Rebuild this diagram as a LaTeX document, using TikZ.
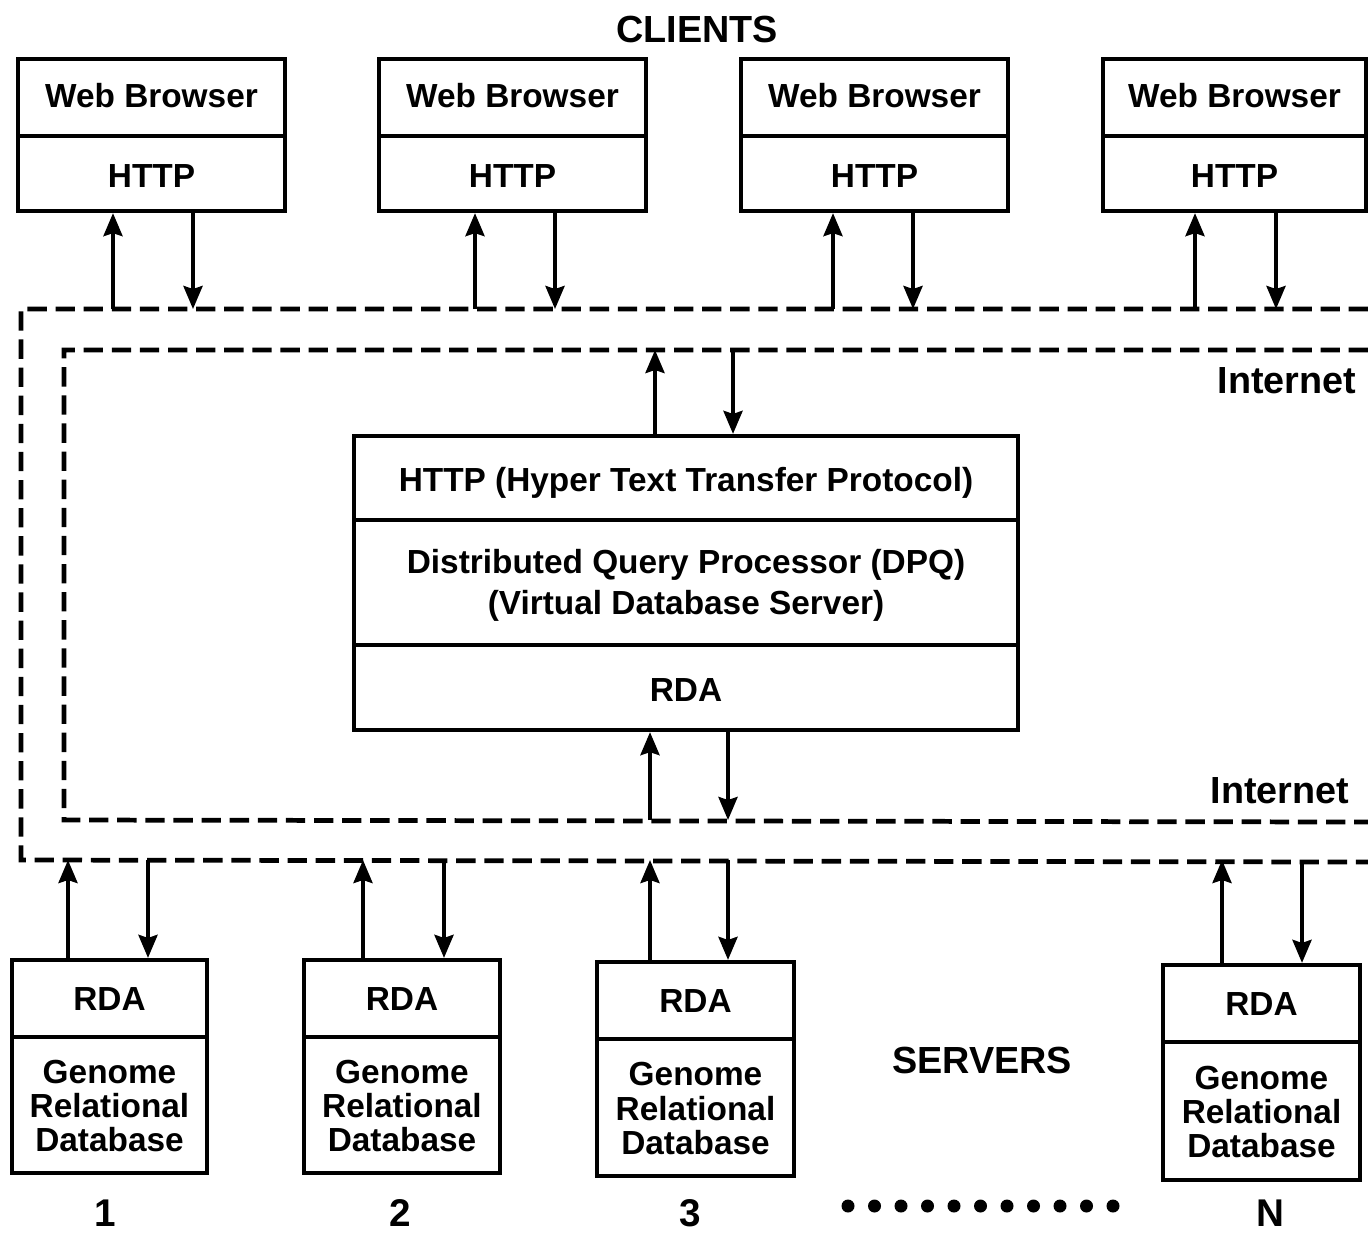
\documentclass[tikz,border=0pt]{standalone}
\usepackage{fontspec}
\setmainfont{Liberation Sans}
\usetikzlibrary{arrows.meta,fit}

\begin{document}
\begin{tikzpicture}[x=0.02cm,y=-0.02cm,
  box/.style={draw,line width=2.4pt,inner sep=0pt},
  lbl/.style={font=\fontsize{19}{19.6}\selectfont\bfseries,align=center,inner sep=0pt},
  lblc/.style={font=\fontsize{19}{23.3}\selectfont\bfseries,align=center,inner sep=0pt},
  big/.style={font=\fontsize{21.5}{24}\selectfont\bfseries,inner sep=0pt},
  num/.style={font=\fontsize{22}{24}\selectfont\bfseries,inner sep=0pt},
  rule/.style={line width=2.4pt},
  net/.style={line width=2.7pt,dash pattern=on 11pt off 5pt},
  arr/.style={line width=2.2pt,-{Stealth[width=0.38cm,length=0.46cm,inset=0.06cm]}}]

\useasboundingbox (0,0) rectangle (1368,1235);

% headings
\node[big] (clients) at (697,29) {CLIENTS};
\node[big] (servers) at (982,1060) {SERVERS};

% the two Internet regions, open to the right
\draw[net] (1368,309) -- (21,309) -- (21,860) -- (1368,862);
\draw[net] (1368,350) -- (64,350) -- (64,820) -- (1368,822);
\node[big] (net1) at (1287,381) {Internet};
\node[big] (net2) at (1280,791) {Internet};

% client machines
\foreach \i/\l/\r/\u/\d in {1/18/285/113/193, 2/379/646/475/555,
                            3/741/1008/833/913, 4/1103/1366/1195/1276} {
  \node[box,fit={(\l,59) (\r,211)}] (c\i) {};
  \draw[rule] (\l,136) -- (\r,136);
  \node[lbl] (cw\i) at ({(\l+\r)/2},96) {Web Browser};
  \node[lbl] (ch\i) at ({(\l+\r)/2},176) {HTTP};
  \coordinate (cu\i) at (\u,309);
  \coordinate (cd\i) at (\d,309);
  \draw[arr] (cu\i) -- (cu\i |- c\i.south);
  \draw[arr] (cd\i |- c\i.south) -- (cd\i);
}

% virtual database server
\node[box,fit={(354,436) (1018,730)}] (dpq) {};
\draw[rule] (354,520) -- (1018,520);
\draw[rule] (354,645) -- (1018,645);
\node[lbl] (dpqhttp) at (686,483) {HTTP (Hyper Text Transfer Protocol)};
\node[lblc] (dpqmain) at (686,585) {Distributed Query Processor (DPQ)\\(Virtual Database Server)};
\node[lbl] (dpqrda) at (686,690) {RDA};

\coordinate (iu) at (655,350);
\coordinate (id) at (733,350);
\coordinate (bu) at (650,820);
\coordinate (bd) at (728,820);
\draw[arr] (iu |- dpq.north) -- (iu);
\draw[arr] (id) -- (id |- dpq.north);
\draw[arr] (bu) -- (bu |- dpq.south);
\draw[arr] (bd |- dpq.south) -- (bd);

% database servers
\foreach \i/\l/\r/\t/\b/\dv/\u/\d/\nx/\n in {1/12/207/960/1173/1037/68/148/105/1,
    2/304/500/960/1173/1037/363/444/400/2,
    3/597/794/962/1176/1039/650/728/690/3,
    4/1163/1360/965/1180/1042/1222/1302/1270/N} {
  \node[box,fit={(\l,\t) (\r,\b)}] (s\i) {};
  \draw[rule] (\l,\dv) -- (\r,\dv);
  \node[lbl] (sr\i) at ({(\l+\r)/2},{(\t+\dv)/2}) {RDA};
  \node[lbl] (sg\i) at ({(\l+\r)/2},{(\dv+\b)/2+1}) {Genome\\Relational\\Database};
  \node[num] (sn\i) at (\nx,1213) {\n};
  \coordinate (su\i) at (\u,860);
  \coordinate (sd\i) at (\d,860);
  \draw[arr] (su\i |- s\i.north) -- (su\i);
  \draw[arr] (sd\i) -- (sd\i |- s\i.north);
}

% ellipsis between server 3 and server N
\foreach \k in {0,...,10}
  \fill (848+\k*26.5,1206) circle (0.13cm);

\end{tikzpicture}
\end{document}
